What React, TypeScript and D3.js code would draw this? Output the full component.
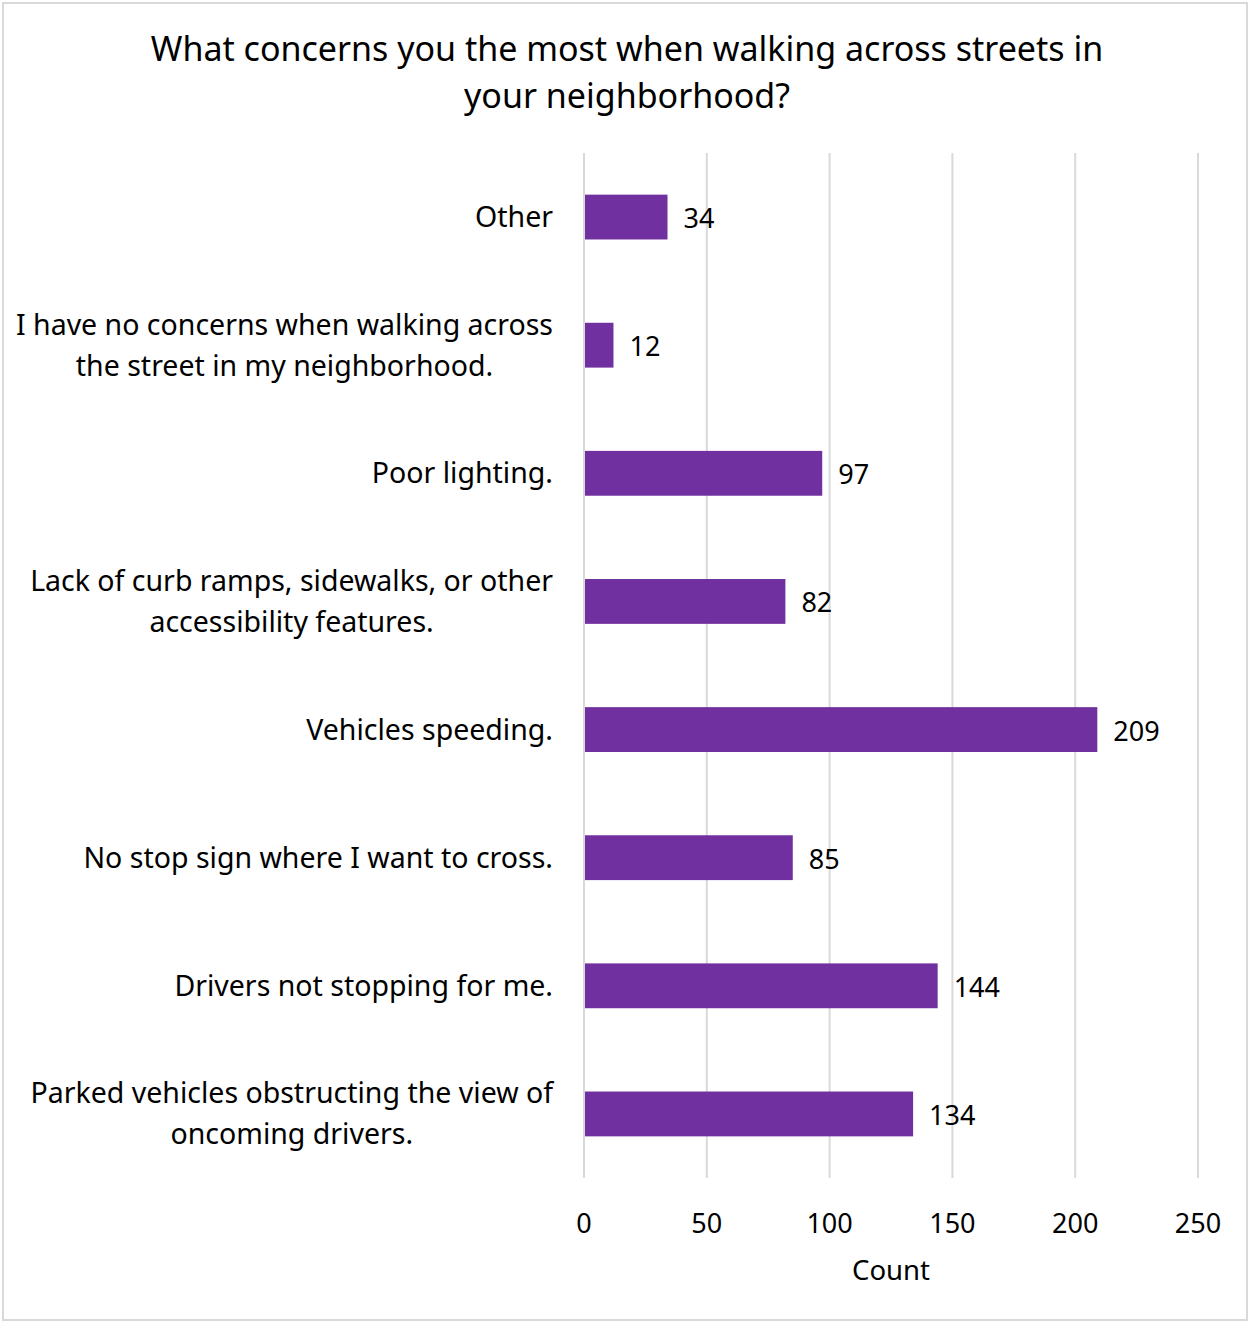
import React, { useEffect, useRef } from "react";
import * as d3 from "d3";

const categories: string[][] = [
  ["Other"],
  ["I have no concerns when walking across", "the street in my neighborhood."],
  ["Poor lighting."],
  ["Lack of curb ramps, sidewalks, or other", "accessibility features."],
  ["Vehicles speeding."],
  ["No stop sign where I want to cross."],
  ["Drivers not stopping for me."],
  ["Parked vehicles obstructing the view of", "oncoming drivers."],
];
const values: number[] = [34, 12, 97, 82, 209, 85, 144, 134];
const tickValues: number[] = [0, 50, 100, 150, 200, 250];
const titleLines: string[] = [
  "What concerns you the most when walking across streets in",
  "your neighborhood?",
];
const axisTitle = "Count";

const W = 1250;
const H = 1322;
const FONT = "'Noto Sans', 'Open Sans', sans-serif";

export default function App() {
  const ref = useRef<SVGSVGElement>(null);
  useEffect(() => {
    document.body.style.margin = "0";
    const svg = d3.select(ref.current);
    svg.selectAll("*").remove();

    svg
      .append("rect")
      .attr("x", 3)
      .attr("y", 3)
      .attr("width", W - 6)
      .attr("height", H - 5)
      .attr("fill", "#fff")
      .attr("stroke", "#d9d9d9")
      .attr("stroke-width", 2);

    const x = d3.scaleLinear().domain([0, 250]).range([584, 1198]);
    const idx = values.map((_, i) => String(i));
    const y = d3.scaleBand().domain(idx).range([153, 1178]).paddingInner(0.65).paddingOuter(0.325);

    // title
    svg
      .append("text")
      .attr("font-family", FONT)
      .attr("font-size", 34)
      .attr("fill", "#000")
      .attr("text-anchor", "middle")
      .selectAll("tspan")
      .data(titleLines)
      .join("tspan")
      .attr("x", 627)
      .attr("y", (_, i) => 61 + i * 47)
      .text((d) => d);

    // grid
    svg
      .append("g")
      .selectAll("line")
      .data(tickValues)
      .join("line")
      .attr("x1", (d) => x(d))
      .attr("x2", (d) => x(d))
      .attr("y1", 153)
      .attr("y2", 1178)
      .attr("stroke", "#d9d9d9")
      .attr("stroke-width", 2);

    // tick labels
    svg
      .append("g")
      .selectAll("text")
      .data(tickValues)
      .join("text")
      .attr("x", (d) => x(d))
      .attr("y", 1233)
      .attr("text-anchor", "middle")
      .attr("font-family", FONT)
      .attr("font-size", 27)
      .attr("fill", "#000")
      .text((d) => String(d));

    svg
      .append("text")
      .attr("x", (x(0) + x(250)) / 2)
      .attr("y", 1280)
      .attr("text-anchor", "middle")
      .attr("font-family", FONT)
      .attr("font-size", 27.5)
      .attr("fill", "#000")
      .text(axisTitle);

    // bars
    svg
      .append("g")
      .selectAll("rect")
      .data(values)
      .join("rect")
      .attr("x", x(0) + 1)
      .attr("y", (_, i) => y(String(i))!)
      .attr("width", (d) => x(d) - x(0) - 1)
      .attr("height", y.bandwidth())
      .attr("fill", "#7030a0");

    // value labels
    svg
      .append("g")
      .selectAll("text")
      .data(values)
      .join("text")
      .attr("x", (d) => x(d) + 16)
      .attr("y", (_, i) => y(String(i))! + y.bandwidth() / 2 + 11)
      .attr("font-family", FONT)
      .attr("font-size", 27)
      .attr("fill", "#000")
      .text((d) => String(d));

    // category labels
    const right = 553;
    const lineH = 41;
    categories.forEach((lines, i) => {
      const cy = y(String(i))! + y.bandwidth() / 2;
      const g = svg.append("text").attr("font-family", FONT).attr("font-size", 28.5).attr("fill", "#000");
      const tspans = lines.map((l, j) =>
        g
          .append("tspan")
          .attr("y", cy + 10 + (j - (lines.length - 1) / 2) * lineH)
          .text(l)
      );
      const widths = tspans.map((t) => (t.node() as SVGTSpanElement).getComputedTextLength());
      const maxW = Math.max(...widths);
      const cx = right - maxW / 2;
      g.attr("text-anchor", "middle");
      tspans.forEach((t) => t.attr("x", cx));
    });
  }, []);
  return <svg ref={ref} width={W} height={H} style={{ display: "block" }} />;
}
